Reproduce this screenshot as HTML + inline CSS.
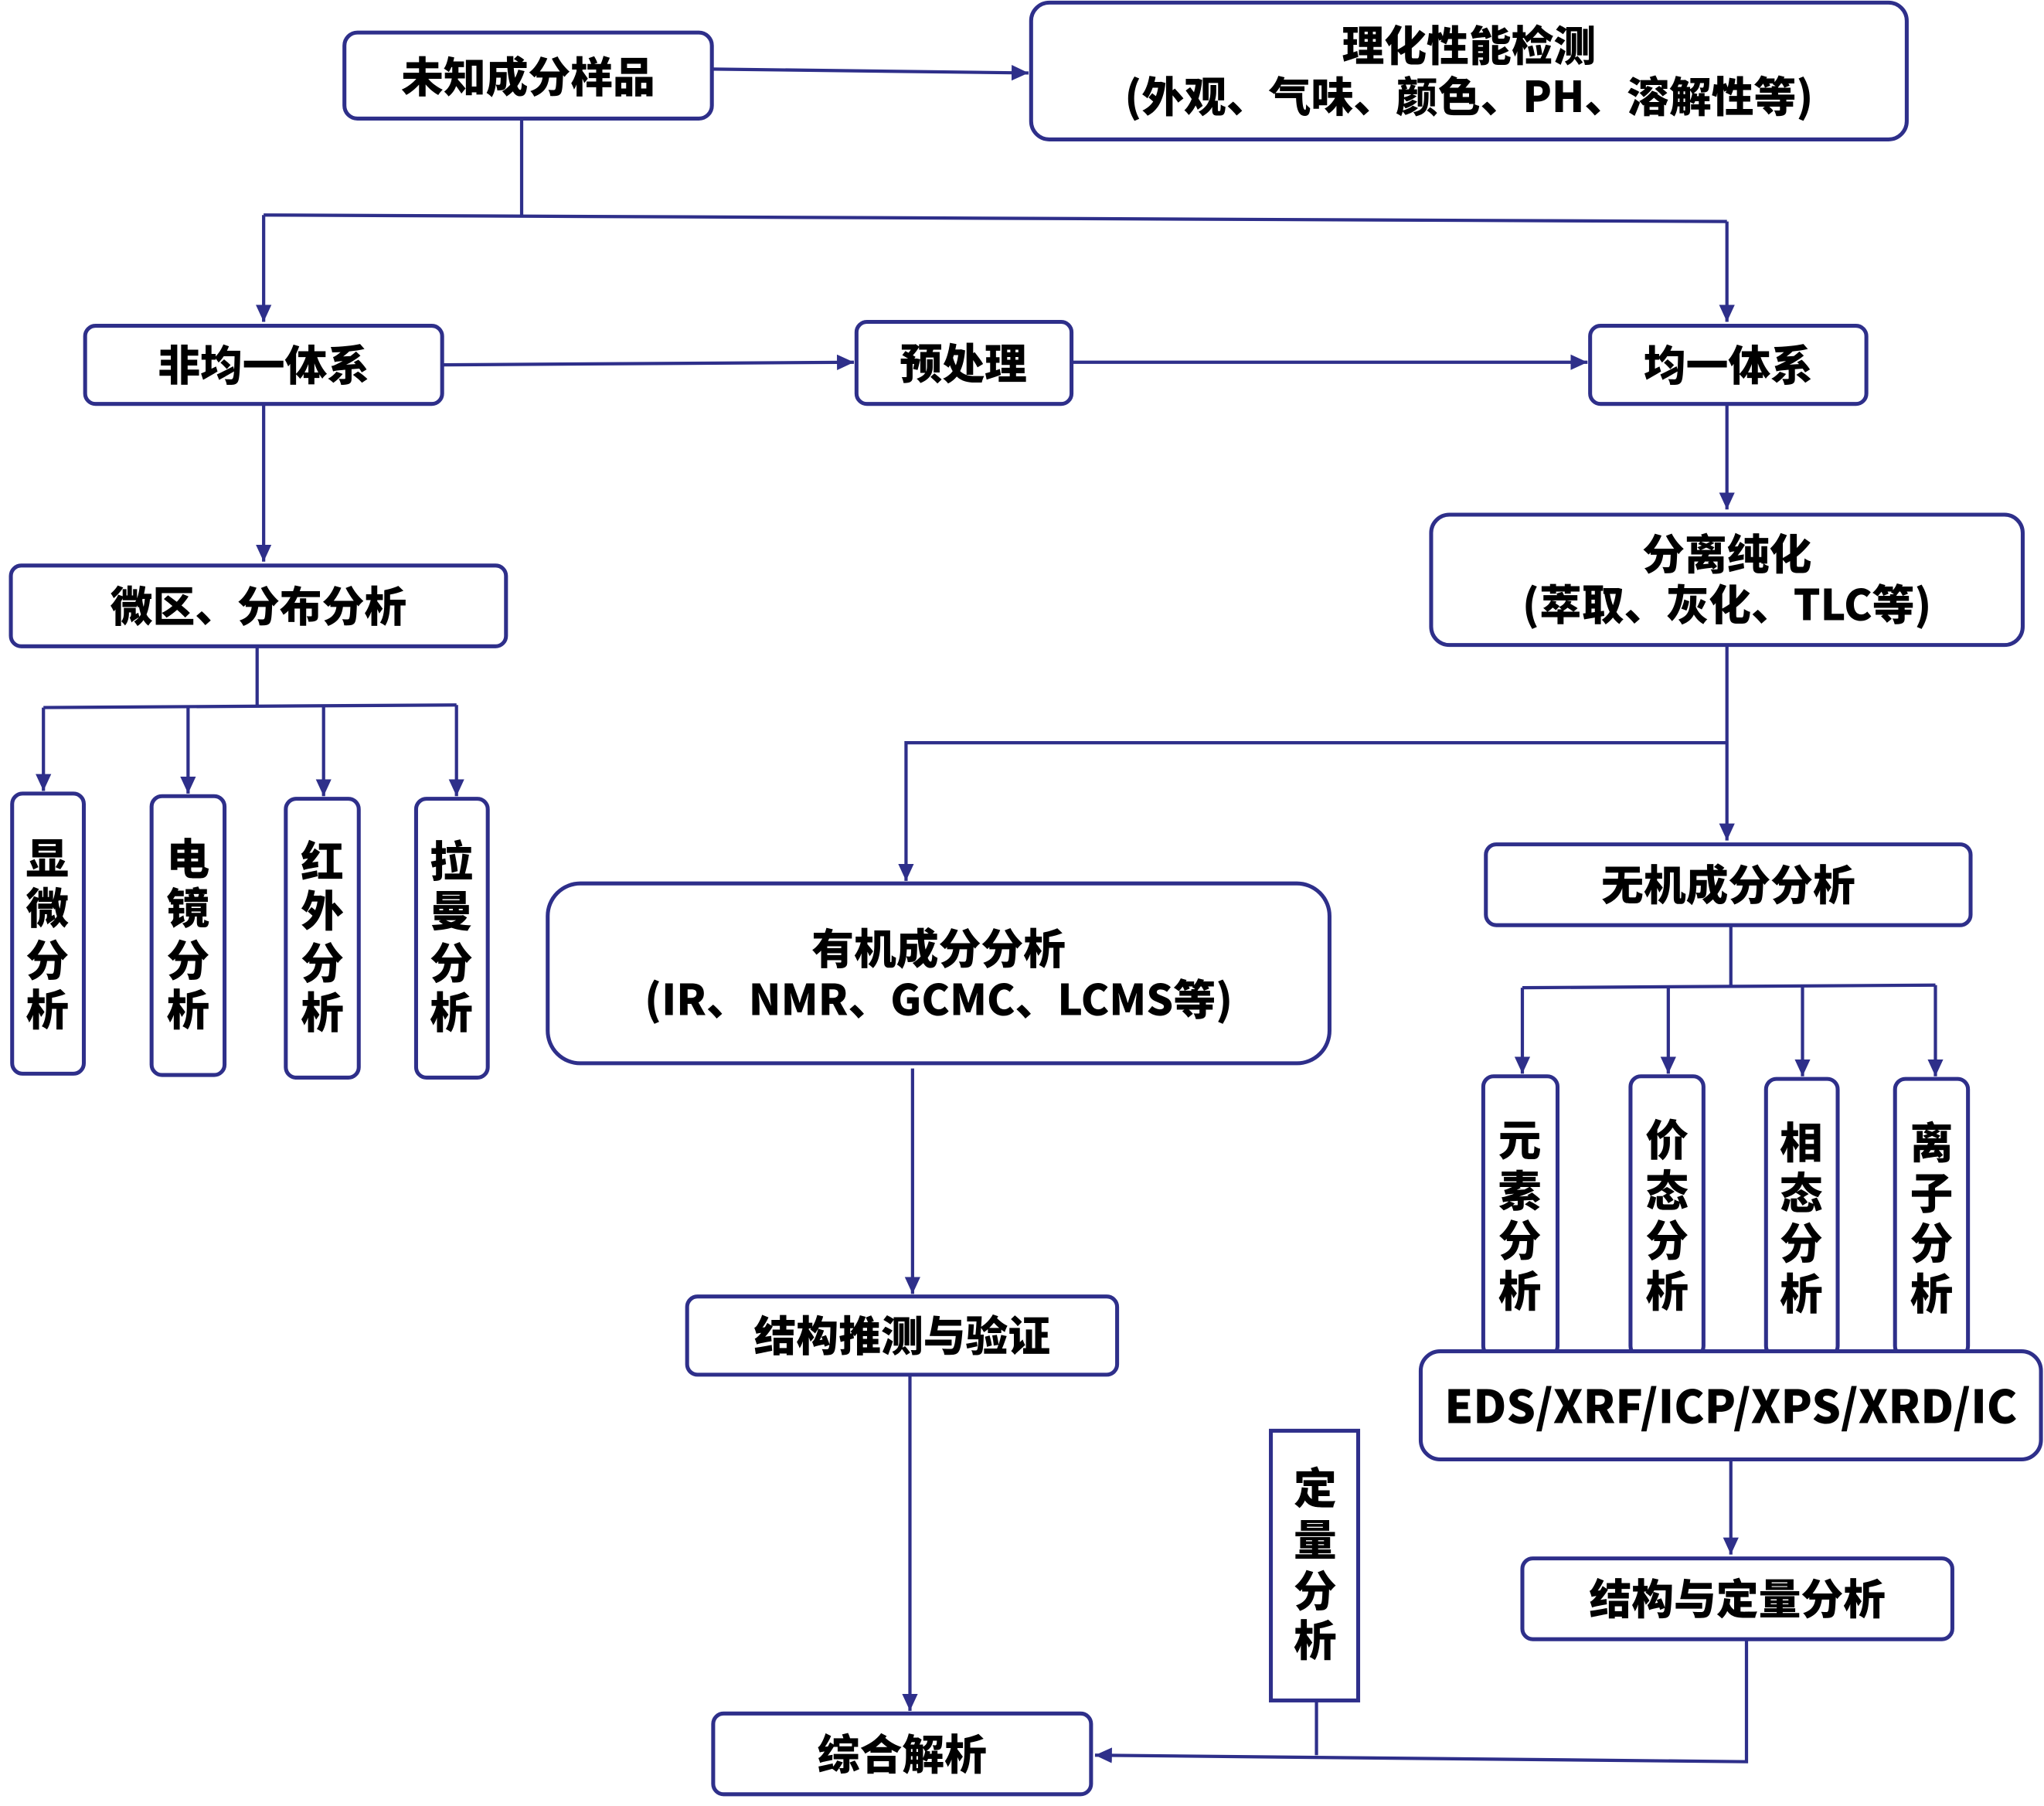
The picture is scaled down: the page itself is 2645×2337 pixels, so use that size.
<!DOCTYPE html>
<html><head><meta charset="utf-8"><style>
html,body{margin:0;padding:0;background:#fff;}
svg{display:block;}
text{font-family:"Noto Sans CJK SC","Liberation Sans",sans-serif;font-weight:900;fill:#000;text-anchor:middle;}
</style></head><body>
<svg width="2645" height="2337" viewBox="0 0 1568 1386" xmlns="http://www.w3.org/2000/svg">
<defs><marker id="a" markerWidth="14" markerHeight="14" refX="13" refY="6" orient="auto" markerUnits="userSpaceOnUse"><path d="M0,0 L13,6 L0,12 z" fill="#2e2f8a"/></marker></defs>
<g fill="#fff" stroke="#2e2f8a" stroke-width="3">
<rect x="264" y="25" width="282" height="66" rx="10"/>
<rect x="791" y="2" width="672" height="105" rx="14"/>
<rect x="65" y="250" width="274" height="60" rx="8"/>
<rect x="657" y="247" width="165" height="63" rx="8"/>
<rect x="1220" y="250" width="212" height="60" rx="8"/>
<rect x="1098" y="395" width="454" height="100" rx="14"/>
<rect x="8" y="434" width="380" height="62" rx="8"/>
<rect x="9" y="609" width="55" height="215" rx="8"/>
<rect x="116" y="611" width="56" height="214" rx="8"/>
<rect x="219" y="613" width="56" height="214" rx="8"/>
<rect x="319" y="613" width="55" height="214" rx="8"/>
<rect x="420" y="678" width="600" height="138" rx="25"/>
<rect x="1140" y="648" width="372" height="62" rx="8"/>
<rect x="1138" y="826" width="57" height="215" rx="8"/>
<rect x="1251" y="826" width="56" height="215" rx="8"/>
<rect x="1355" y="828" width="55" height="213" rx="8"/>
<rect x="1454" y="828" width="56" height="213" rx="8"/>
<rect x="1090" y="1037" width="476" height="83" rx="15"/>
<rect x="1168" y="1196" width="330" height="62" rx="8"/>
<rect x="527" y="995" width="330" height="60" rx="8"/>
<rect x="975" y="1098" width="67" height="207"/>
<rect x="547" y="1315" width="290" height="62" rx="8"/>
</g>
<g fill="none" stroke="#2e2f8a" stroke-width="2.5">
<path d="M546,53 L789,56" marker-end="url(#a)"/>
<path d="M400,91 V165 M202,165 L1325,170"/>
<path d="M202,165 V247" marker-end="url(#a)"/>
<path d="M1325,170 V247" marker-end="url(#a)"/>
<path d="M339,280 L655,278" marker-end="url(#a)"/>
<path d="M822,278 L1218,278" marker-end="url(#a)"/>
<path d="M202,310 V431" marker-end="url(#a)"/>
<path d="M1325,310 V391" marker-end="url(#a)"/>
<path d="M197,496 V542 M33,543 L350,541"/>
<path d="M33,543 V607" marker-end="url(#a)"/>
<path d="M144,543 V609" marker-end="url(#a)"/>
<path d="M248,542 V611" marker-end="url(#a)"/>
<path d="M350,541 V611" marker-end="url(#a)"/>
<path d="M1325,495 V645" marker-end="url(#a)"/>
<path d="M1325,570 H695 V676" marker-end="url(#a)"/>
<path d="M700,820 V993" marker-end="url(#a)"/>
<path d="M1328,710 V757 M1168,758 L1485,756"/>
<path d="M1168,758 V824" marker-end="url(#a)"/>
<path d="M1280,758 V824" marker-end="url(#a)"/>
<path d="M1383,757 V826" marker-end="url(#a)"/>
<path d="M1485,756 V826" marker-end="url(#a)"/>
<path d="M1328,1120 V1193" marker-end="url(#a)"/>
<path d="M698,1055 V1313" marker-end="url(#a)"/>
<path d="M1340,1258 V1352 L840,1347" marker-end="url(#a)"/>
<path d="M1010,1305 V1347"/>
</g>
<g font-size="32.5">
<text x="405" y="71">未知成分样品</text>
<text x="1127" y="47">理化性能检测</text>
<text x="1127" y="86">(外观、气味、颜色、PH、溶解性等)</text>
<text x="202" y="292">非均一体系</text>
<text x="739" y="291">预处理</text>
<text x="1326" y="292">均一体系</text>
<text x="1325" y="437">分离纯化</text>
<text x="1325" y="476">(萃取、灰化、TLC等)</text>
<text x="198" y="477">微区、分布分析</text>
<text x="720" y="740">有机成分分析</text>
<text x="720" y="779">(IR、NMR、GCMC、LCMS等)</text>
<text x="1326" y="691">无机成分分析</text>
<text x="1328" y="1092" font-size="35">EDS/XRF/ICP/XPS/XRD/IC</text>
<text x="1333" y="1239">结构与定量分析</text>
<text x="692" y="1037">结构推测与验证</text>
<text x="692" y="1358">综合解析</text>
</g>
<g font-size="33">
<text x="36" y="671">显</text><text x="36" y="709">微</text><text x="36" y="749">分</text><text x="36" y="787">析</text>
<text x="144" y="671">电</text><text x="144" y="709">镜</text><text x="144" y="749">分</text><text x="144" y="787">析</text>
<text x="247" y="673">红</text><text x="247" y="711">外</text><text x="247" y="751">分</text><text x="247" y="789">析</text>
<text x="346" y="673">拉</text><text x="346" y="711">曼</text><text x="346" y="751">分</text><text x="346" y="789">析</text>
<text x="1166" y="887">元</text><text x="1166" y="926">素</text><text x="1166" y="964">分</text><text x="1166" y="1003">析</text>
<text x="1279" y="887">价</text><text x="1279" y="926">态</text><text x="1279" y="964">分</text><text x="1279" y="1003">析</text>
<text x="1382" y="889">相</text><text x="1382" y="928">态</text><text x="1382" y="966">分</text><text x="1382" y="1005">析</text>
<text x="1482" y="889">离</text><text x="1482" y="928">子</text><text x="1482" y="966">分</text><text x="1482" y="1005">析</text>
<text x="1009" y="1154">定</text><text x="1009" y="1194">量</text><text x="1009" y="1233">分</text><text x="1009" y="1271">析</text>
</g>
</svg>
</body></html>
